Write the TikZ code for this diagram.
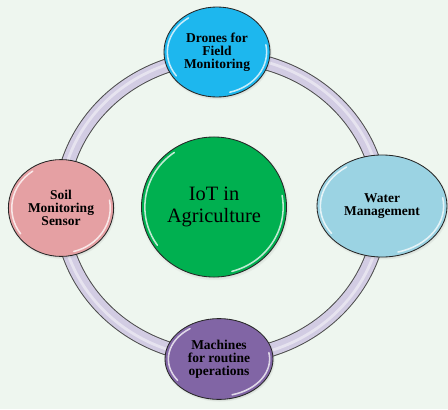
\documentclass[tikz,border=0pt]{standalone}
\usepackage{fontspec}
\setmainfont{Liberation Serif}
\usetikzlibrary{shapes.geometric}
\usetikzlibrary{shadows}
\usetikzlibrary{calc}
\definecolor{paper}{HTML}{EEF6EF}
\definecolor{ringlilac}{HTML}{D2CCE3}
\definecolor{hubgreen}{HTML}{00B050}
\definecolor{dronecyan}{HTML}{1DB7EE}
\definecolor{waterblue}{HTML}{9BD3E3}
\definecolor{machinepurple}{HTML}{8165A5}
\definecolor{soilpink}{HTML}{E5A0A3}
\tikzset{
    gloss/.style = {path picture={
        \path let \p1 = (path picture bounding box.north east),
                  \p2 = (path picture bounding box.center),
                  \n1 = {\x1-\x2-2.4pt}, \n2 = {\y1-\y2-2.4pt} in
            [draw=white, line width=1.1pt, opacity=.75, line cap=round]
            ($(\p2)+(125:\n1 and \n2)$) arc[start angle=125, end angle=215, x radius=\n1, y radius=\n2]
            ($(\p2)+(-75:\n1 and \n2)$) arc[start angle=-75, end angle=10, x radius=\n1, y radius=\n2];}},
    bubble/.style = {ellipse, draw=black!85, line width=0.6pt, gloss, inner sep=0pt, align=center,
        circular drop shadow={shadow xshift=0.3pt, shadow yshift=-0.8pt, shadow scale=1.03, opacity=.55}},
    spoke/.style = {bubble, font=\bfseries\fontsize{9.6}{9.2}\selectfont},
    hub/.style = {bubble, font=\fontsize{14.5}{16}\selectfont}}

\begin{document}
\begin{tikzpicture}[x=0.025cm, y=-0.025cm]
    \fill[paper] (0,0) rectangle (448,409);
    \useasboundingbox (0,0) rectangle (448,409);
    \coordinate (ring) at (221,207);
    % tube behind the bubbles
    \draw[black!70, line width=10.4pt] (ring) ellipse[x radius=160, y radius=150];
    \draw[ringlilac, line width=9pt] (ring) ellipse[x radius=160, y radius=150];
    \draw[white, opacity=.45, line width=2pt] (ring) ellipse[x radius=161, y radius=151];

    \node[hub, fill=hubgreen, minimum width=3.625cm, minimum height=3.5cm] (iot) at (214,207) {IoT in\\Agriculture};
    \node[spoke, fill=dronecyan, minimum width=2.65cm, minimum height=2.25cm] (drones) at (217,52) {Drones for\\Field\\Monitoring};
    \node[spoke, fill=waterblue, minimum width=3.25cm, minimum height=2.55cm] (water) at (382,206) {Water\\Management};
    \node[spoke, fill=machinepurple, minimum width=2.7cm, minimum height=2.02cm] (machines) at (219,359) {Machines\\for routine\\operations};
    \node[spoke, fill=soilpink, minimum width=2.63cm, minimum height=2.42cm] (soil) at (61,208) {Soil\\Monitoring\\Sensor};
\end{tikzpicture}
\end{document}
